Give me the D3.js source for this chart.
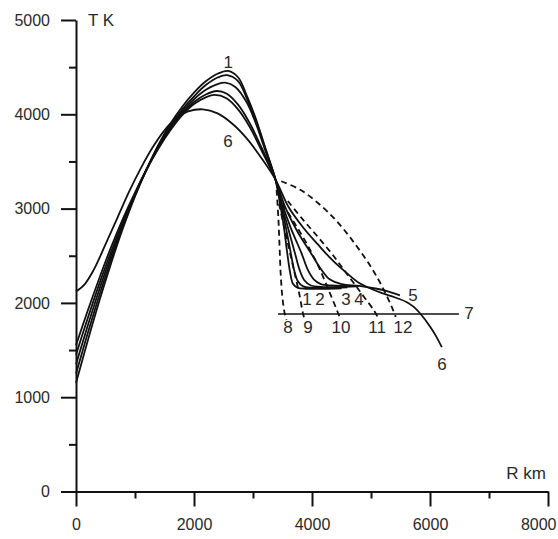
<!DOCTYPE html>
<html>
<head>
<meta charset="utf-8">
<script src="https://cdn.jsdelivr.net/npm/d3@7"></script>
<style>
  html, body { margin: 0; padding: 0; background: #fff; }
  svg { display: block; }
  text { font-family: Arial, "Liberation Sans", sans-serif; fill: #2a2a2a; }
</style>
</head>
<body>
<svg id="chart" width="558" height="539"></svg>
<script>
// ---------------- DATA ----------------
const xMajorTicks = [0, 2000, 4000, 6000, 8000];
const xMinorTicks = [1000, 3000, 5000, 7000];
const yMajorTicks = [0, 1000, 2000, 3000, 4000, 5000];
const yMinorTicks = [500, 1500, 2500, 3500, 4500];
const xTitle = "R km";
const yTitle = "T K";

// solid curves [R km, T K]
const curve1 = [[0,1150],[200,1600],[400,2030],[600,2430],[800,2800],[1000,3130],[1200,3420],[1400,3680],[1600,3900],[1800,4080],[2000,4230],[2200,4350],[2400,4430],[2580,4460],[2750,4390],[2900,4190],[3050,3950],[3200,3660],[3380,3310],[3450,3080],[3520,2820],[3580,2530],[3630,2320],[3680,2200],[3760,2160],[3900,2150],[4200,2150],[4500,2155]];
const curve2 = [[0,1250],[200,1680],[400,2090],[600,2470],[800,2820],[1000,3140],[1200,3420],[1400,3670],[1600,3880],[1800,4050],[2000,4190],[2200,4310],[2400,4390],[2560,4415],[2750,4350],[2900,4160],[3050,3930],[3200,3650],[3380,3310],[3470,3060],[3560,2790],[3640,2530],[3700,2340],[3760,2230],[3850,2175],[4000,2160],[4300,2160],[4600,2165]];
const curve3 = [[0,1350],[200,1760],[400,2150],[600,2510],[800,2840],[1000,3150],[1200,3420],[1400,3660],[1600,3860],[1800,4030],[2000,4160],[2200,4260],[2400,4320],[2530,4335],[2700,4290],[2900,4120],[3050,3900],[3200,3630],[3380,3310],[3480,3050],[3600,2780],[3710,2530],[3790,2350],[3870,2240],[3980,2185],[4150,2170],[4500,2170],[4750,2175]];
const curve4 = [[0,1450],[200,1840],[400,2210],[600,2550],[800,2870],[1000,3160],[1200,3420],[1400,3650],[1600,3850],[1800,4010],[2000,4130],[2200,4210],[2384,4247],[2550,4220],[2750,4100],[2950,3900],[3150,3640],[3380,3310],[3500,3040],[3650,2780],[3820,2530],[3930,2350],[4030,2250],[4150,2200],[4350,2185],[4600,2180],[4800,2180]];
const curve5 = [[0,1550],[200,1920],[400,2270],[600,2600],[800,2900],[1000,3170],[1200,3420],[1400,3640],[1600,3830],[1800,3990],[2000,4110],[2200,4180],[2350,4205],[2550,4170],[2750,4050],[2950,3860],[3150,3610],[3380,3310],[3550,3010],[3750,2760],[3980,2530],[4150,2360],[4300,2250],[4500,2200],[4800,2180],[5100,2150],[5300,2120],[5490,2080]];
const curve6 = [[0,2120],[150,2200],[300,2350],[500,2620],[700,2900],[900,3180],[1100,3430],[1300,3650],[1500,3830],[1700,3960],[1900,4030],[2150,4053],[2400,4010],[2650,3900],[2900,3740],[3150,3530],[3380,3310],[3600,3020],[3850,2800],[4100,2620],[4350,2450],[4600,2310],[4800,2210],[5000,2150],[5200,2100],[5400,2060],[5600,2010],[5720,1960],[5830,1890],[6000,1750],[6100,1650],[6200,1530]];

// dashed curves
const dashed8  = [[3400,3200],[3430,2900],[3450,2600],[3470,2300],[3500,2050],[3540,1880],[3570,1820]];
const dashed9  = [[3440,3050],[3530,2800],[3620,2550],[3700,2330],[3780,2110],[3850,1880],[3880,1820]];
const dashed10 = [[3500,3050],[3700,2850],[3900,2640],[4100,2400],[4300,2110],[4450,1880],[4490,1820]];
const dashed11 = [[3590,3080],[3850,2880],[4100,2700],[4350,2510],[4600,2300],[4850,2090],[5050,1920],[5130,1830]];
const dashed12 = [[3480,3290],[3800,3200],[4100,3060],[4400,2880],[4700,2650],[5000,2380],[5200,2160],[5350,1960],[5420,1850]];

// horizontal line 7
const line7 = [[3424,1883],[6490,1883]];

// curve labels [text, R, T]
const curveLabels = [
  ["1", 2580, 4490], ["6", 2576, 3650],
  ["1", 3915, 1975], ["2", 4136, 1975], ["3", 4576, 1975], ["4", 4797, 1975],
  ["5", 5712, 2020], ["7", 6661, 1830],
  ["8", 3593, 1680], ["9", 3932, 1680], ["10", 4492, 1680], ["11", 5102, 1680], ["12", 5542, 1680],
  ["6", 6203, 1290]
];

// ---------------- CHART ----------------
const svg = d3.select("#chart");
const x = d3.scaleLinear().domain([0, 8000]).range([76, 548]);
const y = d3.scaleLinear().domain([0, 5000]).range([491.5, 20]);

const line = d3.line().x(d => x(d[0])).y(d => y(d[1])).curve(d3.curveCatmullRom.alpha(0.5));

// Axes
const xAxis = svg.append("g").attr("transform", "translate(0,491.5)")
  .call(d3.axisBottom(x).tickValues(xMajorTicks).tickSize(15).tickSizeOuter(0).tickPadding(12.5).tickFormat(d3.format("d")));
xAxis.selectAll(".tick text").filter(d => d === 8000).attr("text-anchor", "end").attr("x", 8);
const xAxisMinor = svg.append("g").attr("transform", "translate(0,491.5)")
  .call(d3.axisBottom(x).tickValues(xMinorTicks).tickSize(7).tickSizeOuter(0).tickFormat(""));
xAxisMinor.select(".domain").remove();

const yAxis = svg.append("g").attr("transform", "translate(76,0)")
  .call(d3.axisLeft(y).tickValues(yMajorTicks).tickSize(15).tickSizeOuter(0).tickPadding(11).tickFormat(d3.format("d")));
const yAxisMinor = svg.append("g").attr("transform", "translate(76,0)")
  .call(d3.axisLeft(y).tickValues(yMinorTicks).tickSize(7).tickSizeOuter(0).tickFormat(""));
yAxisMinor.select(".domain").remove();

svg.selectAll(".domain, .tick line").attr("stroke", "#111").attr("stroke-width", 2);
svg.selectAll(".tick text").attr("font-size", 16).attr("fill", "#2a2a2a")
  .style("font-family", "Arial, 'Liberation Sans', sans-serif");

// Axis titles
svg.append("text").attr("x", 546).attr("y", 479).attr("text-anchor", "end").attr("font-size", 17).text(xTitle);
svg.append("text").attr("x", 88).attr("y", 26).attr("text-anchor", "start").attr("font-size", 17).text(yTitle);

// Solid curves
const solids = [curve1, curve2, curve3, curve4, curve5, curve6];
svg.append("g").selectAll("path").data(solids).join("path")
  .attr("d", line).attr("fill", "none").attr("stroke", "#111").attr("stroke-width", 1.8);

// Dashed curves
const dashes = [dashed8, dashed9, dashed10, dashed11, dashed12];
svg.append("g").selectAll("path").data(dashes).join("path")
  .attr("d", line).attr("fill", "none").attr("stroke", "#111").attr("stroke-width", 1.8)
  .attr("stroke-dasharray", "6,4");

// Line 7
svg.append("path").attr("d", d3.line().x(d => x(d[0])).y(d => y(d[1]))(line7))
  .attr("fill", "none").attr("stroke", "#111").attr("stroke-width", 1.6);

// Labels
svg.append("g").selectAll("text").data(curveLabels).join("text")
  .attr("x", d => x(d[1])).attr("y", d => y(d[2]))
  .attr("text-anchor", "middle").attr("font-size", 17)
  .text(d => d[0]);
</script>
</body>
</html>
